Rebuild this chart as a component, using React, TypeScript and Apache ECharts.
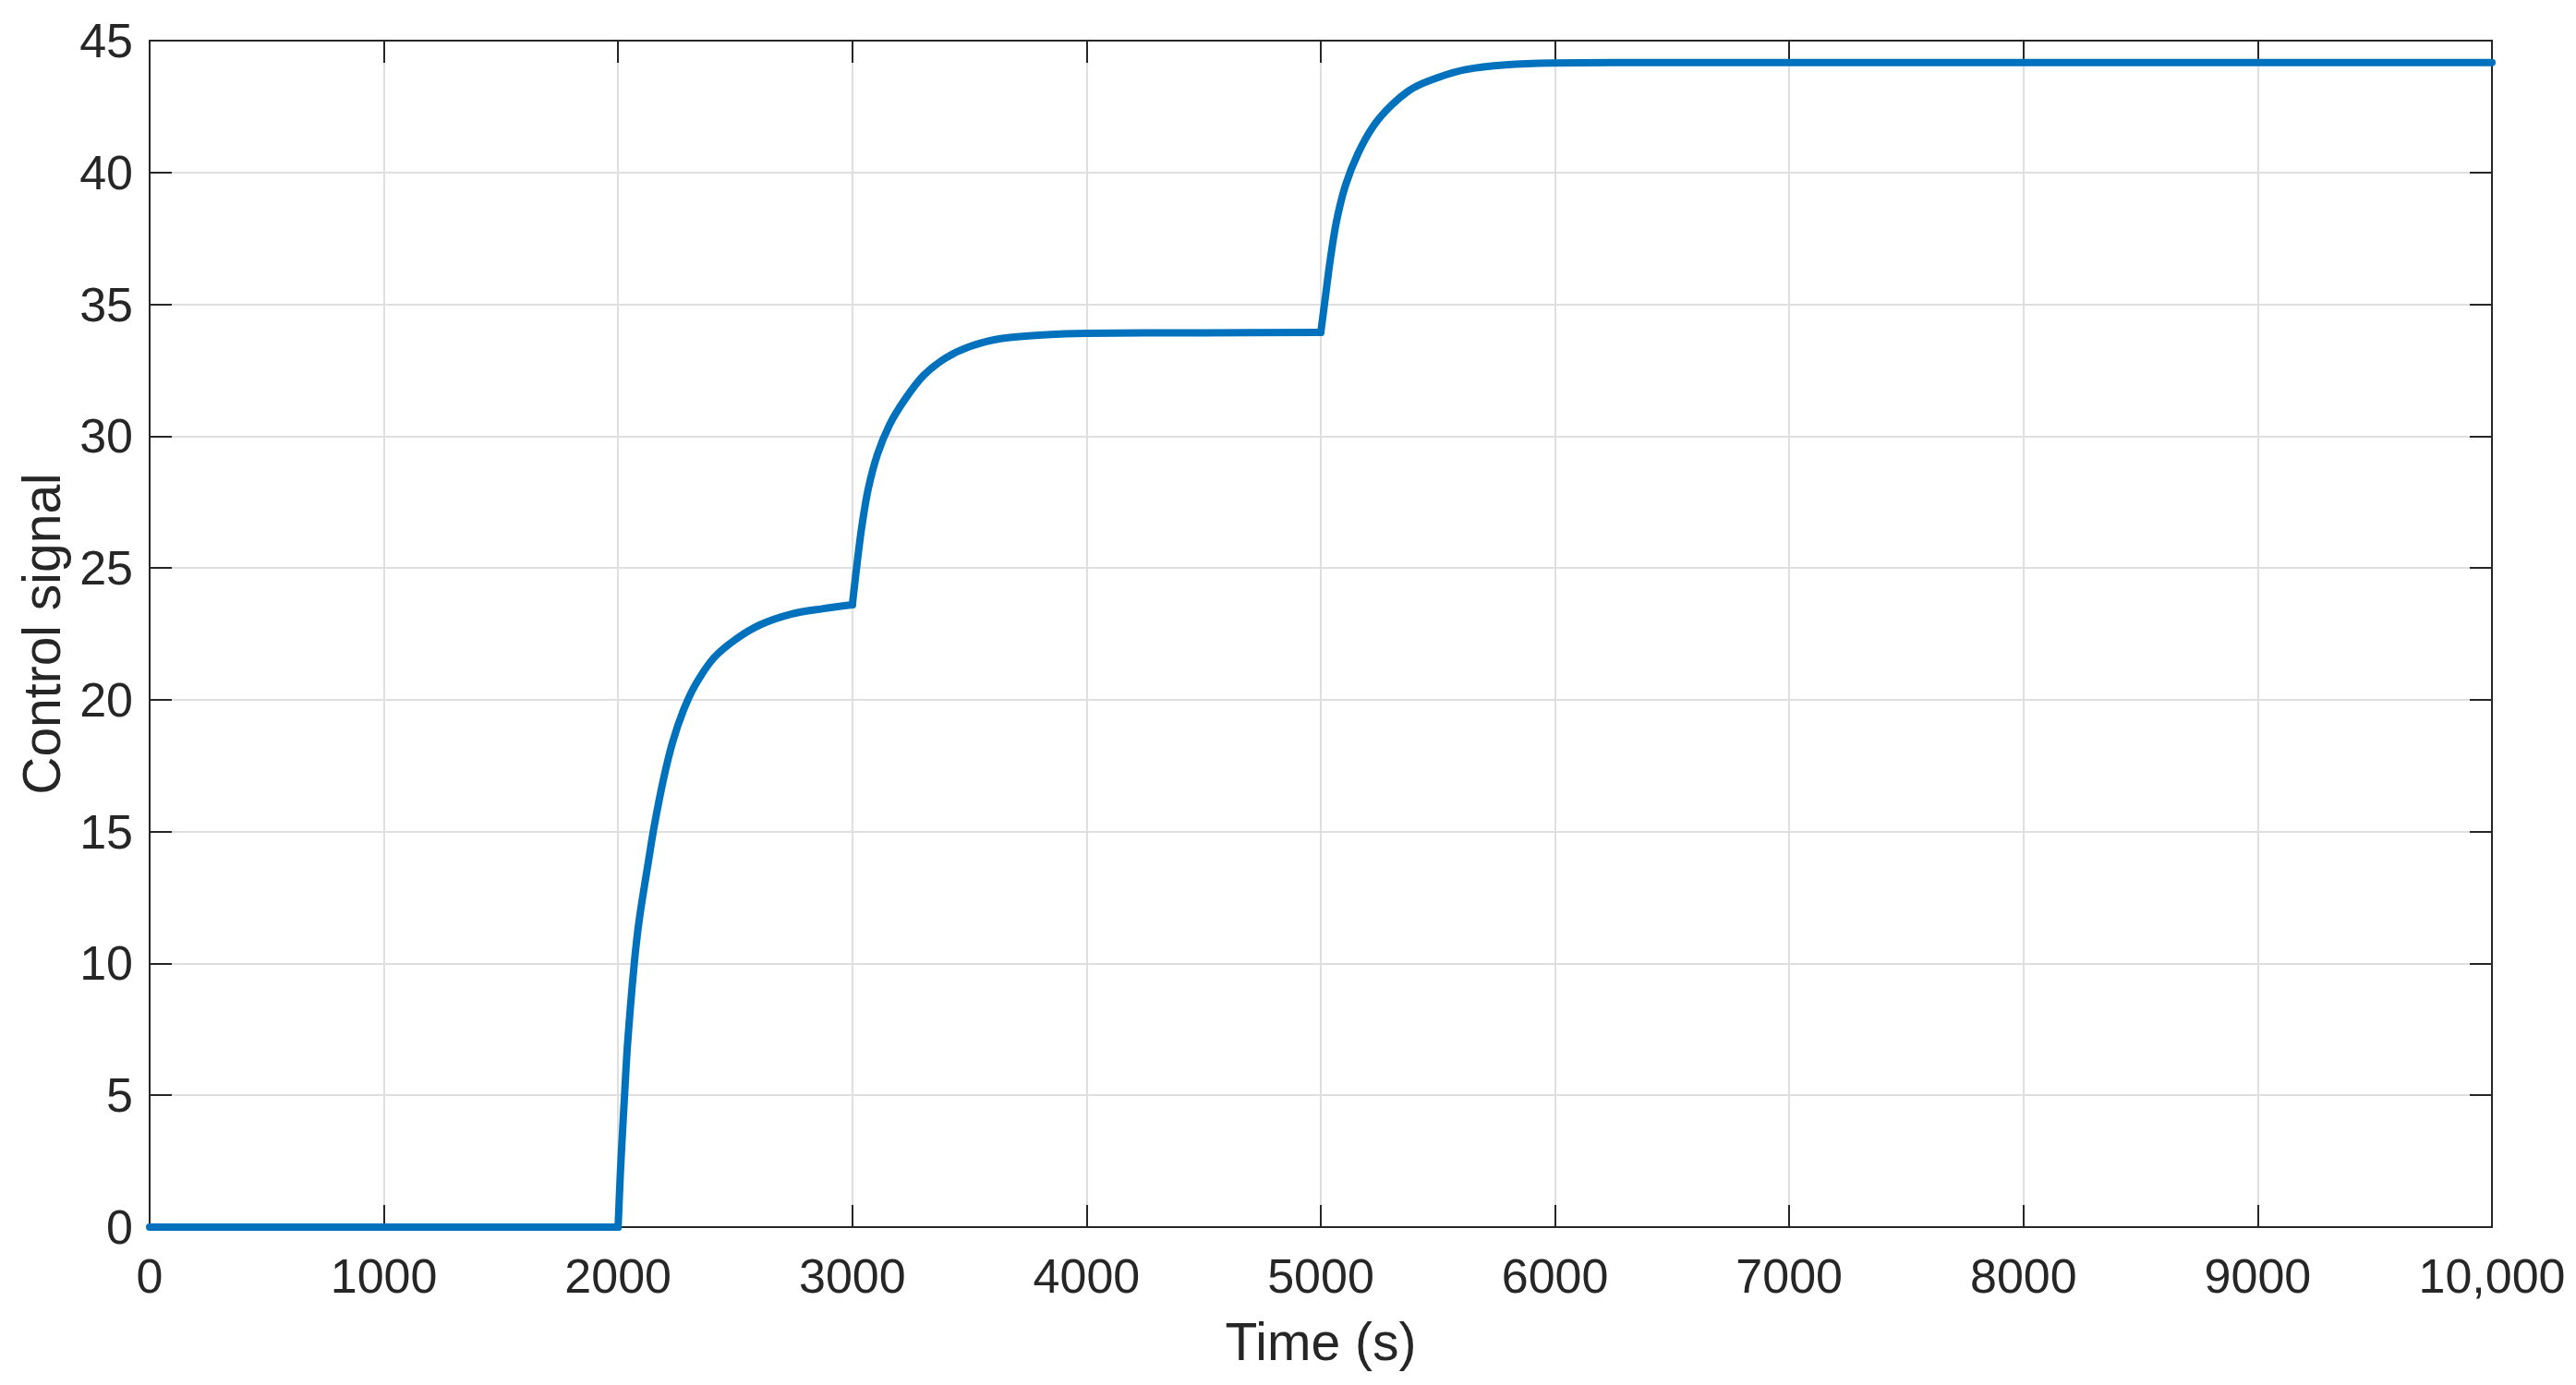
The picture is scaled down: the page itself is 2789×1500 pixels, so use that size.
import React, { useEffect, useRef } from "react";
import * as echarts from "echarts";

// Time (s) and control signal readings
const timeS: number[] = [
  0, 2000,
  2010, 2020, 2027, 2040, 2069, 2091, 2130, 2154, 2194, 2233, 2279, 2332, 2410, 2503, 2608, 2739, 2871, 3000,
  3022, 3041, 3068, 3107, 3160, 3225, 3304, 3396, 3502, 3633, 3830, 4000, 4500, 5000,
  5020, 5039, 5066, 5105, 5158, 5224, 5302, 5394, 5500, 5618, 5789, 5986, 6500, 10000,
];
const controlSignal: number[] = [
  0, 0,
  2.1, 3.8, 4.9, 6.9, 10.0, 11.7, 13.9, 15.2, 17.0, 18.4, 19.6, 20.6, 21.6, 22.3, 22.85, 23.25, 23.45, 23.6,
  25.3, 26.6, 28.0, 29.3, 30.45, 31.4, 32.3, 32.95, 33.4, 33.7, 33.85, 33.9, 33.92, 33.93,
  35.3, 36.6, 38.1, 39.5, 40.7, 41.75, 42.55, 43.2, 43.6, 43.9, 44.08, 44.15, 44.17, 44.17,
];
// set-point change instants (s), where the signal has a kink
const stepTimes: number[] = [2000, 3000, 5000];

const xTickMin = 0;
const xTickMax = 10000;
const xTickStep = 1000;
const yTickMin = 0;
const yTickMax = 45;
const yTickStep = 5;

const xAxisTitle = "Time (s)";
const yAxisTitle = "Control signal";

const FONT = "'Liberation Sans', Arial, Helvetica, sans-serif";
const TEXT = "#262626";
const GRID = "#dfdfdf";

export default function App() {
  const ref = useRef<HTMLDivElement>(null);

  useEffect(() => {
    document.body.style.margin = "0";
    if (!ref.current) return;
    const chart = echarts.init(ref.current, null, { renderer: "svg" });
    const points = timeS.map((t, i) => [t, controlSignal[i]]);

    // split into pieces between kinks so the smoothing keeps the corners sharp
    const bounds = [timeS[0], ...stepTimes, timeS[timeS.length - 1]];
    const pieces: number[][][] = [];
    for (let k = 0; k < bounds.length - 1; k++) {
      pieces.push(points.filter((p) => p[0] >= bounds[k] && p[0] <= bounds[k + 1]));
    }

    const axisLine = { show: true, onZero: false, lineStyle: { color: TEXT, width: 2 } };
    const tick = { show: true, inside: true, length: 24, lineStyle: { color: TEXT, width: 2 } };

    chart.setOption({
      animation: false,
      backgroundColor: "#ffffff",
      grid: { left: 162, right: 91, top: 44, bottom: 171, containLabel: false },
      xAxis: [
        {
          type: "value",
          position: "bottom",
          min: xTickMin,
          max: xTickMax,
          interval: xTickStep,
          axisLine,
          axisTick: tick,
          axisLabel: {
            fontSize: 52,
            color: TEXT,
            fontFamily: FONT,
            margin: 27,
            formatter: (v: number) => (v >= 10000 ? v.toLocaleString("en-US") : String(v)),
          },
          splitLine: { show: true, lineStyle: { color: GRID, width: 2 } },
          name: xAxisTitle,
          nameLocation: "middle",
          nameGap: 95,
          nameTextStyle: { fontSize: 57, color: TEXT, fontFamily: FONT },
        },
        {
          type: "value",
          position: "top",
          min: xTickMin,
          max: xTickMax,
          interval: xTickStep,
          axisLine,
          axisTick: tick,
          axisLabel: { show: false },
          splitLine: { show: false },
        },
      ],
      yAxis: [
        {
          type: "value",
          position: "left",
          min: yTickMin,
          max: yTickMax,
          interval: yTickStep,
          axisLine,
          axisTick: tick,
          axisLabel: { fontSize: 52, color: TEXT, fontFamily: FONT, margin: 18 },
          splitLine: { show: true, lineStyle: { color: GRID, width: 2 } },
          name: yAxisTitle,
          nameLocation: "middle",
          nameGap: 89,
          nameTextStyle: { fontSize: 57, color: TEXT, fontFamily: FONT },
        },
        {
          type: "value",
          position: "right",
          min: yTickMin,
          max: yTickMax,
          interval: yTickStep,
          axisLine,
          axisTick: tick,
          axisLabel: { show: false },
          splitLine: { show: false },
        },
      ],
      series: pieces.map((d) => ({
        type: "line",
        data: d,
        showSymbol: false,
        symbol: "none",
        smooth: 0.3,
        lineStyle: { color: "#0072BD", width: 8, join: "round", cap: "round" },
        z: 5,
      })),
    });
    return () => chart.dispose();
  }, []);

  return (
    <div
      ref={ref}
      style={{ position: "absolute", left: 0, top: 0, width: 2789, height: 1500 }}
    />
  );
}
